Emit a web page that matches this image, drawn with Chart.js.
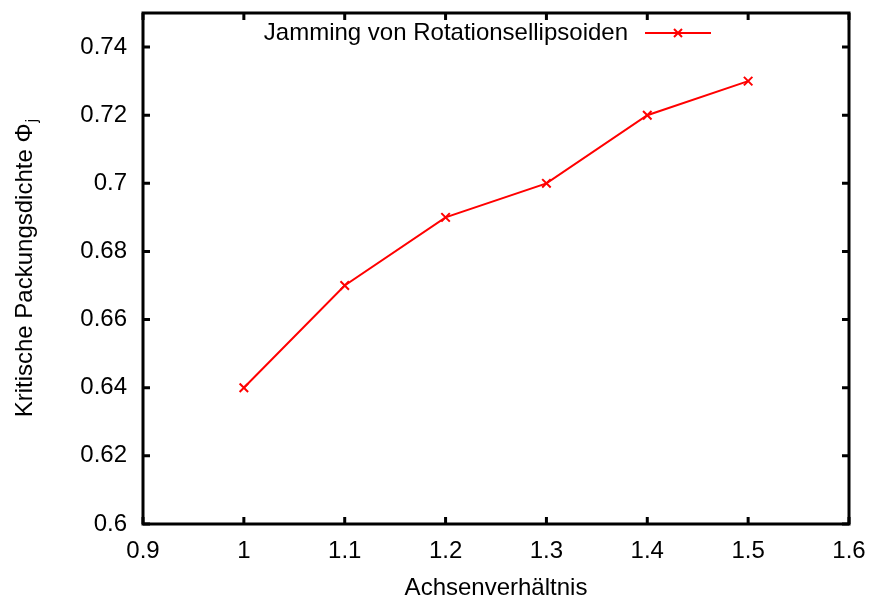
<!DOCTYPE html>
<html><head><meta charset="utf-8">
<script src="https://cdn.jsdelivr.net/npm/chart.js@4"></script>
<style>html,body{margin:0;padding:0;background:#fff}#wrap{width:871px;height:599px}</style>
</head><body><div id="wrap"><canvas id="c" width="871" height="599"></canvas></div>
<script>
// Daten
const ratios=[1,1.1,1.2,1.3,1.4,1.5];
const phiJ=[0.64,0.67,0.69,0.70,0.72,0.73];
const xTicks=[0.9,1,1.1,1.2,1.3,1.4,1.5,1.6];
const yTicks=[0.6,0.62,0.64,0.66,0.68,0.7,0.72,0.74];
const seriesLabel='Jamming von Rotationsellipsoiden';
const xTitle='Achsenverhältnis';
const yTitle='Kritische Packungsdichte Φ';
const yTitleSub='j';
const FONT='"Liberation Sans", Arial, sans-serif';
const fmt=v=>String(+(+v).toFixed(2));

// gnuplot-artiger Rahmen, Ticks nach innen, Key und Achsentitel
const gnuFrame={id:'gnuFrame',afterDraw(chart){
  const c=chart.ctx,a=chart.chartArea,sx=chart.scales.x,sy=chart.scales.y;
  c.save();
  c.strokeStyle='#000';c.lineWidth=3;c.lineCap='butt';
  c.strokeRect(a.left,a.top,a.right-a.left,a.bottom-a.top);
  const tl=7;
  c.beginPath();
  xTicks.forEach(v=>{const px=sx.getPixelForValue(v);
    c.moveTo(px,a.bottom);c.lineTo(px,a.bottom-tl);c.moveTo(px,a.top);c.lineTo(px,a.top+tl);});
  yTicks.forEach(v=>{const py=sy.getPixelForValue(v);
    c.moveTo(a.left,py);c.lineTo(a.left+tl,py);c.moveTo(a.right,py);c.lineTo(a.right-tl,py);});
  c.stroke();
  // key
  const ds=chart.data.datasets[0];
  c.fillStyle='#000';c.font='24px '+FONT;c.textAlign='right';c.textBaseline='middle';
  c.fillText(ds.label,628,33);
  c.strokeStyle=ds.borderColor;c.lineWidth=2;
  c.beginPath();c.moveTo(645,33);c.lineTo(711,33);c.stroke();
  c.beginPath();c.moveTo(674,29);c.lineTo(682,37);c.moveTo(674,37);c.lineTo(682,29);c.stroke();
  // x title
  c.fillStyle='#000';c.textAlign='center';c.textBaseline='middle';
  c.fillText(xTitle,(a.left+a.right)/2,588);
  // y title mit Index
  c.translate(25,(a.top+a.bottom)/2);c.rotate(-Math.PI/2);
  c.font='24px '+FONT;const w1=c.measureText(yTitle).width;
  c.font='17px '+FONT;const w2=c.measureText(yTitleSub).width;
  const x0=-(w1+w2)/2;
  c.textAlign='left';c.font='24px '+FONT;c.fillText(yTitle,x0,0);
  c.font='17px '+FONT;c.fillText(yTitleSub,x0+w1+1,7);
  c.restore();
}};

new Chart(document.getElementById('c'),{type:'line',
  data:{datasets:[{label:seriesLabel,data:ratios.map((x,i)=>({x,y:phiJ[i]})),
    borderColor:'#ff0000',backgroundColor:'#ff0000',borderWidth:2,tension:0,fill:false,
    pointStyle:'crossRot',pointRadius:6,pointBorderWidth:2,pointBorderColor:'#ff0000'}]},
  options:{responsive:false,animation:false,devicePixelRatio:1,
    layout:{padding:{top:13,right:22,left:0,bottom:0}},
    plugins:{legend:{display:false},tooltip:{enabled:false}},
    scales:{
      x:{type:'linear',min:0.9,max:1.6,
        afterBuildTicks:s=>{s.ticks=xTicks.map(v=>({value:v}));},
        afterFit:s=>{s.height=75;s.paddingLeft=0;s.paddingRight=0;},
        grid:{display:false,drawTicks:false},border:{display:false},
        ticks:{callback:fmt,color:'#000',font:{family:FONT,size:24},padding:13,maxRotation:0}},
      y:{type:'linear',min:0.6,max:0.75,
        afterBuildTicks:s=>{s.ticks=yTicks.map(v=>({value:v}));},
        afterFit:s=>{s.width=143;s.paddingTop=0;s.paddingBottom=0;},
        grid:{display:false,drawTicks:false},border:{display:false},
        ticks:{callback:fmt,color:'#000',font:{family:FONT,size:24},padding:16}}
    }},
  plugins:[gnuFrame]
});
</script>
</body></html>
